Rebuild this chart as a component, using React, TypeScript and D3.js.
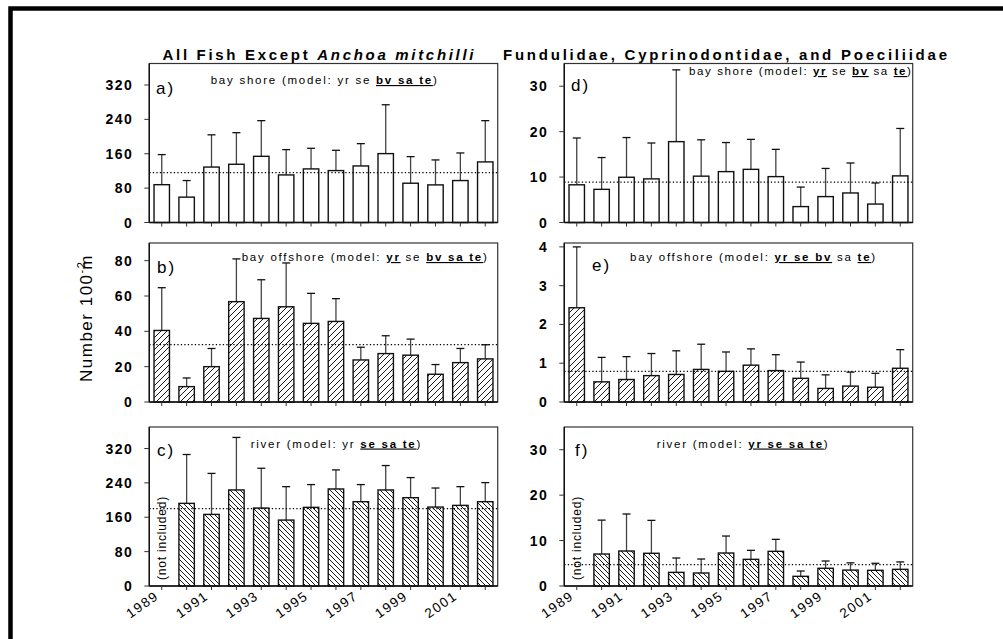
import React from 'react';
import * as d3 from 'd3';

const FONT = "'Liberation Sans', Arial, Helvetica, sans-serif";

const years = ['1989','1990','1991','1992','1993','1994','1995','1996','1997','1998','1999','2000','2001','2002'];
const yearLabels = ['1989','1991','1993','1995','1997','1999','2001'];

// a) All fish, bay shore
const aMean = [88, 59, 129, 135.5, 154, 110.7, 124.7, 120.8, 131.6, 160.3, 91.4, 87.5, 97.6, 141];
const aUpper = [158, 97.6, 204, 209, 237, 169.6, 172.7, 168, 183.5, 274, 153.3, 145.6, 161.8, 237];
const aRef = 116;
// b) All fish, bay offshore
const bMean = [40.5, 8.7, 20, 56.8, 47.3, 53.9, 44.5, 45.6, 23.8, 27.4, 26.5, 15.7, 22.3, 24.4];
const bUpper = [64.7, 13.6, 30.3, 81, 69.2, 78.7, 61.5, 58.5, 31, 37.5, 35.6, 21.2, 30.3, 32.4];
const bRef = 32.5;
// c) All fish, river
const cMean = [null, 192.3, 166.6, 223.5, 181.4, 153.4, 183, 225.8, 196.2, 223.5, 205.5, 183.7, 187.6, 196.2];
const cUpper = [null, 306, 262, 345.7, 274, 231.2, 236, 270.2, 236, 280.3, 252.3, 228, 231.2, 240.6];
const cRef = 179.9;
// d) Fundulidae..., bay shore
const dMean = [8.3, 7.3, 9.96, 9.6, 17.8, 10.2, 11.2, 11.7, 10.1, 3.5, 5.7, 6.5, 4.06, 10.26];
const dUpper = [18.6, 14.3, 18.7, 17.5, 33.6, 18.2, 17.6, 18.3, 16.1, 7.8, 11.9, 13.1, 8.7, 20.7];
const dRef = 8.9;
// e) Fundulidae..., bay offshore
const eMean = [2.43, 0.52, 0.58, 0.68, 0.71, 0.84, 0.79, 0.95, 0.81, 0.61, 0.35, 0.41, 0.38, 0.87];
const eUpper = [4.0, 1.15, 1.17, 1.25, 1.32, 1.49, 1.29, 1.37, 1.22, 1.03, 0.70, 0.77, 0.74, 1.35];
const eRef = 0.79;
// f) Fundulidae..., river
const fMean = [null, 7.04, 7.7, 7.2, 3.0, 2.86, 7.26, 5.87, 7.63, 2.13, 3.9, 3.5, 3.45, 3.67];
const fUpper = [null, 14.5, 15.85, 14.45, 6.16, 5.94, 11.0, 7.85, 10.27, 3.3, 5.5, 5.1, 5.0, 5.3];
const fRef = 4.7;

const ticksBig = [0, 80, 160, 240, 320];
const ticksB = [0, 20, 40, 60, 80];
const ticksSmall = [0, 10, 20, 30];
const ticksE = [0, 1, 2, 3, 4];

type Part = [string, boolean];
const subA: Part[] = [['bay shore (model: yr se ', false], ['bv sa te', true], [')', false]];
const subB: Part[] = [['bay offshore (model: ', false], ['yr', true], [' se ', false], ['bv sa te', true], [')', false]];
const subC: Part[] = [['river (model: yr ', false], ['se sa te', true], [')', false]];
const subD: Part[] = [['bay shore (model: ', false], ['yr', true], [' se ', false], ['bv', true], [' sa ', false], ['te', true], [')', false]];
const subE: Part[] = [['bay offshore (model: ', false], ['yr se bv', true], [' sa ', false], ['te', true], [')', false]];
const subF: Part[] = [['river (model: ', false], ['yr se sa te', true], [')', false]];

const COLS = [149.3, 564.3];
const PLOT_W = 348.4;
const ROWS = [
  { top: 63.5, bottom: 222.5 },
  { top: 243, bottom: 402 },
  { top: 427, bottom: 586 },
];

type PanelDef = {
  label: string; col: number; row: number;
  mean: (number | null)[]; upper: (number | null)[]; refv: number;
  domain: [number, number]; ticks: number[]; hatch: string | null;
  sub: Part[]; subX: number; subY: number; subAnchor: string; subSpacing: number;
  labX: number; labY: number;
  notIncluded: boolean; xLabels: boolean;
};

const panels: PanelDef[] = [
  { label: 'a)', col: 0, row: 0, mean: aMean, upper: aUpper, refv: aRef, domain: [0, 370], ticks: ticksBig, hatch: null, sub: subA, subX: 210.7, subY: 84, subAnchor: 'start', subSpacing: 1.75, labX: 156, labY: 94, notIncluded: false, xLabels: false },
  { label: 'b)', col: 0, row: 1, mean: bMean, upper: bUpper, refv: bRef, domain: [0, 90], ticks: ticksB, hatch: 'fwd', sub: subB, subX: 241.7, subY: 261, subAnchor: 'start', subSpacing: 1.75, labX: 157, labY: 272.5, notIncluded: false, xLabels: false },
  { label: 'c)', col: 0, row: 2, mean: cMean, upper: cUpper, refv: cRef, domain: [0, 370], ticks: ticksBig, hatch: 'back', sub: subC, subX: 250.7, subY: 447.5, subAnchor: 'start', subSpacing: 1.75, labX: 157, labY: 456, notIncluded: true, xLabels: true },
  { label: 'd)', col: 1, row: 0, mean: dMean, upper: dUpper, refv: dRef, domain: [0, 35], ticks: ticksSmall, hatch: null, sub: subD, subX: 912.5, subY: 75, subAnchor: 'end', subSpacing: 1.6, labX: 571, labY: 91, notIncluded: false, xLabels: false },
  { label: 'e)', col: 1, row: 1, mean: eMean, upper: eUpper, refv: eRef, domain: [0, 4.1], ticks: ticksE, hatch: 'fwd', sub: subE, subX: 630, subY: 261, subAnchor: 'start', subSpacing: 1.75, labX: 592, labY: 271, notIncluded: false, xLabels: false },
  { label: 'f)', col: 1, row: 2, mean: fMean, upper: fUpper, refv: fRef, domain: [0, 35], ticks: ticksSmall, hatch: 'back', sub: subF, subX: 656.7, subY: 447.5, subAnchor: 'start', subSpacing: 1.75, labX: 575, labY: 456, notIncluded: true, xLabels: true },
];

function Panel({ p }: { p: PanelDef }) {
  const x0 = COLS[p.col];
  const { top, bottom } = ROWS[p.row];
  const x = d3.scaleBand<string>().domain(years).range([x0, x0 + PLOT_W]).padding(0);
  const y = d3.scaleLinear().domain(p.domain).range([bottom, top]);
  const bw = x.bandwidth() * 0.62;
  const fill = p.hatch === 'fwd' ? 'url(#hatchFwd)' : p.hatch === 'back' ? 'url(#hatchBack)' : '#fff';
  return (
    <g>
      <rect x={x0} y={top} width={PLOT_W} height={bottom - top} fill="#fff" stroke="#333" strokeWidth={1.2} />
      {years.map((yr, i) => {
        const m = p.mean[i];
        const u = p.upper[i];
        if (m == null || u == null) return null;
        const cx = (x(yr) as number) + x.bandwidth() / 2;
        return (
          <g key={'e' + yr}>
            <line x1={cx} x2={cx} y1={y(m)} y2={y(u)} stroke="#444" strokeWidth={1.3} />
            <line x1={cx - 4} x2={cx + 4} y1={y(u)} y2={y(u)} stroke="#111" strokeWidth={1.3} />
          </g>
        );
      })}
      {years.map((yr, i) => {
        const m = p.mean[i];
        if (m == null) return null;
        const bx = (x(yr) as number) + (x.bandwidth() - bw) / 2;
        return (
          <rect key={'b' + yr} x={bx} y={y(m)} width={bw} height={bottom - y(m)} fill={fill} stroke="#111" strokeWidth={1.4} />
        );
      })}
      <line x1={x0} x2={x0 + PLOT_W} y1={y(p.refv)} y2={y(p.refv)} stroke="#000" strokeWidth={1.2} strokeDasharray="1.3,2.2" />
      <line x1={x0} x2={x0} y1={top} y2={bottom} stroke="#111" strokeWidth={1.4} />
      <line x1={x0} x2={x0 + PLOT_W} y1={bottom} y2={bottom} stroke="#111" strokeWidth={1.4} />
      {p.ticks.map((t) => (
        <g key={'t' + t}>
          <line x1={x0 - 5} x2={x0} y1={y(t)} y2={y(t)} stroke="#333" strokeWidth={1} />
          <text x={x0 - 16} y={y(t)} dy="0.36em" textAnchor="end" fontFamily={FONT} fontWeight="bold" fontSize={14} letterSpacing={1.5} fill="#000">{t}</text>
        </g>
      ))}
      {years.map((yr) => {
        const cx = (x(yr) as number) + x.bandwidth() / 2;
        return <line key={'x' + yr} x1={cx} x2={cx} y1={bottom} y2={bottom + 4} stroke="#333" strokeWidth={1} />;
      })}
      {p.xLabels && yearLabels.map((yr) => {
        const cx = (x(yr) as number) + x.bandwidth() / 2;
        return (
          <text key={'xl' + yr} transform={`translate(${cx - 2},${bottom + 12}) rotate(-35)`} textAnchor="end" fontFamily={FONT} fontSize={13.5} letterSpacing={1.5} fill="#000">{yr}</text>
        );
      })}
      {p.notIncluded && (
        <text transform={`translate(${(x(years[0]) as number) + x.bandwidth() / 2},${bottom - 48}) rotate(-90)`} textAnchor="middle" dy="0.35em" fontFamily={FONT} fontSize={12} letterSpacing={0.8} fill="#000">(not included)</text>
      )}
      <text x={p.labX} y={p.labY} fontFamily={FONT} fontSize={17} letterSpacing={2} fill="#000">{p.label}</text>
      <text x={p.subX} y={p.subY} textAnchor={p.subAnchor} fontFamily={FONT} fontSize={11.5} letterSpacing={p.subSpacing} fill="#000">
        {p.sub.map(([s, b], k) => (
          <tspan key={k} fontWeight={b ? 'bold' : 'normal'} style={b ? { textDecoration: 'underline' } : undefined} xmlSpace="preserve">{s}</tspan>
        ))}
      </text>
    </g>
  );
}

export default function App() {
  return (
    <svg width={1003} height={639} viewBox="0 0 1003 639" style={{ position: 'absolute', left: 0, top: 0, background: '#fff' }}>
      <defs>
        <pattern id="hatchFwd" patternUnits="userSpaceOnUse" width={6} height={6}>
          <rect width={6} height={6} fill="#fff" />
          <path d="M0,6 L6,0 M-1.5,1.5 L1.5,-1.5 M4.5,7.5 L7.5,4.5" stroke="#000" strokeWidth={0.9} />
        </pattern>
        <pattern id="hatchBack" patternUnits="userSpaceOnUse" width={5} height={5}>
          <rect width={5} height={5} fill="#fff" />
          <path d="M0,0 L5,5 M-1.5,3.5 L1.5,6.5 M3.5,-1.5 L6.5,1.5" stroke="#000" strokeWidth={0.9} />
        </pattern>
      </defs>
      <rect x={0} y={0} width={1003} height={639} fill="#fff" />
      <rect x={10.5} y={8.5} width={1100} height={700} fill="none" stroke="#000" strokeWidth={4.5} />
      <text x={318} y={60} textAnchor="middle" fontFamily={FONT} fontWeight="bold" fontSize={15} textLength={311} lengthAdjust="spacing" fill="#000">
        All Fish Except <tspan fontStyle="italic">Anchoa mitchilli</tspan>
      </text>
      <text x={725} y={60} textAnchor="middle" fontFamily={FONT} fontWeight="bold" fontSize={15} textLength={444} lengthAdjust="spacing" fill="#000">
        Fundulidae, Cyprinodontidae, and Poeciliidae
      </text>
      <text transform="translate(92,318) rotate(-90)" textAnchor="middle" fontFamily={FONT} fontSize={17} letterSpacing={1.5} fill="#000">
        Number 100<tspan dy={-7} fontSize={11}>-2</tspan><tspan dx={-9} dy={7}>m</tspan>
      </text>
      {panels.map((p) => <Panel key={p.label} p={p} />)}
    </svg>
  );
}
